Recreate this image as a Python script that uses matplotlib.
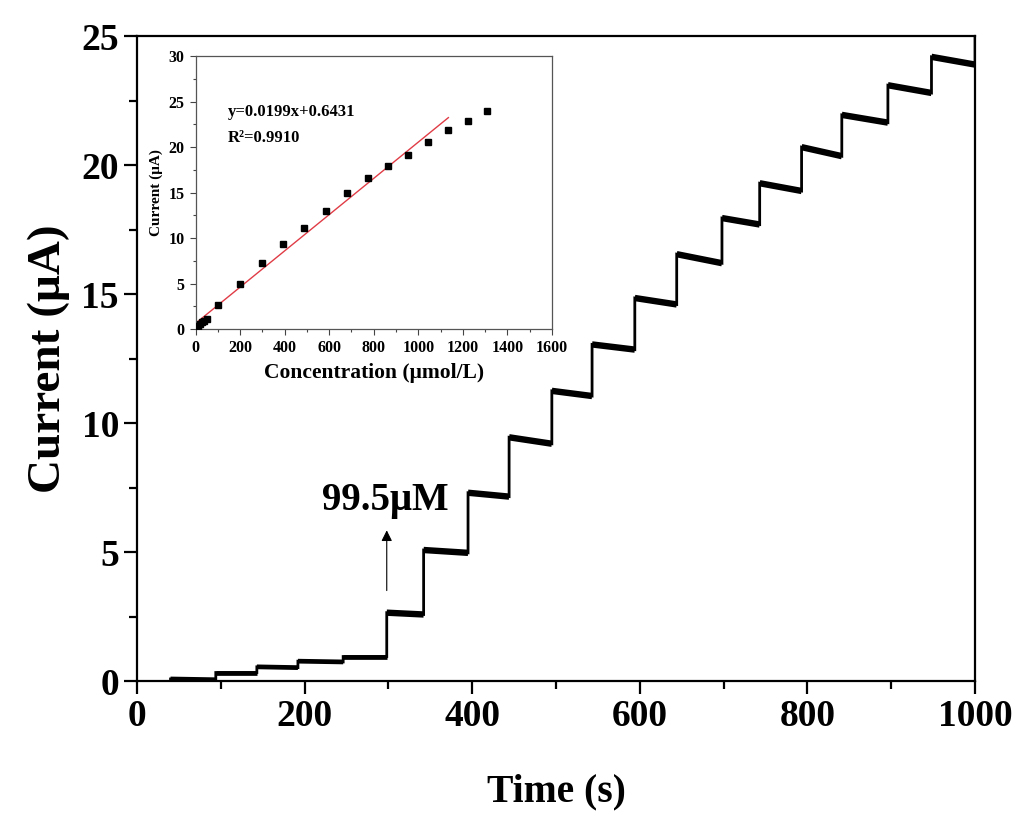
import numpy as np
import matplotlib
matplotlib.use("Agg")
import matplotlib.pyplot as plt
from matplotlib.ticker import MultipleLocator

plt.rcParams["font.family"] = ["Liberation Serif", "DejaVu Serif"]
plt.rcParams["font.weight"] = "bold"

# amperometric staircase: onset time of each plateau, level at start and end (uA)
step_t = [40, 94, 143, 192, 246, 298, 342, 395, 444, 495, 543, 594, 644, 698, 743, 793, 841, 896, 948]
level_start = [0.08, 0.33, 0.55, 0.77, 0.95, 2.65, 5.08, 7.3, 9.45, 11.25, 13.05, 14.85, 16.55,
               17.95, 19.3, 20.7, 21.95, 23.1, 24.2]
level_end = [0.05, 0.33, 0.52, 0.74, 0.95, 2.58, 4.97, 7.15, 9.2, 11.05, 12.85, 14.6, 16.2,
             17.7, 19.0, 20.35, 21.65, 22.8, 23.9]
t_end = 1000
final_spike = 25.0

# calibration (inset)
conc = [10, 20, 30, 40, 50, 102, 199, 298, 394, 488, 584, 679, 772, 863, 953, 1043, 1134, 1221, 1309]
current = [0.33, 0.54, 0.77, 0.93, 1.1, 2.64, 4.98, 7.3, 9.3, 11.14, 13.0, 14.98, 16.56, 17.9,
           19.1, 20.55, 21.87, 22.86, 24.0]
slope, intercept = 0.0199, 0.6431
fit_x = [5, 1135]

fig = plt.figure(figsize=(10.24, 8.23), dpi=100)
ax = fig.add_axes([0.1338, 0.1725, 0.8184, 0.7835])

# build staircase path
t_path, i_path = [], []
ends = step_t[1:] + [t_end]
for t0, t1, a, b in zip(step_t, ends, level_start, level_end):
    t_path += [t0, t1]
    i_path += [a, b]
t_path.append(t_end)
i_path.append(final_spike)
ax.plot(t_path, i_path, color="black", lw=2.0, solid_joinstyle="miter")
for t0, t1, a, b in zip(step_t, ends, level_start, level_end):
    ax.plot([t0, t1], [a, b], color="black", lw=3.4 if a < 2 else 4.6, solid_capstyle="butt")

ax.set_xlim(0, 1000)
ax.set_ylim(0, 25)
ax.xaxis.set_major_locator(MultipleLocator(200))
ax.xaxis.set_minor_locator(MultipleLocator(100))
ax.yaxis.set_major_locator(MultipleLocator(5))
ax.yaxis.set_minor_locator(MultipleLocator(2.5))
ax.tick_params(which="both", direction="out", top=False, right=False, width=1.6, labelsize=27)
ax.tick_params(which="major", length=9.5)
ax.tick_params(which="minor", length=6)
for s in ax.spines.values():
    s.set_linewidth(1.6)
ax.set_xlabel("Time (s)", fontsize=28.5, fontweight="bold", labelpad=28)
ax.set_ylabel("Current (μA)", fontsize=34, fontweight="bold", labelpad=8)

ax.annotate("", xy=(298, 5.95), xytext=(298, 3.4),
            arrowprops=dict(arrowstyle="-|>", lw=0.8, color="black", mutation_scale=16))
ax.text(296, 7.0, "99.5μM", fontsize=28, fontweight="bold", ha="center", va="center")

# inset calibration plot
ins = fig.add_axes([0.191, 0.600, 0.348, 0.332])
ins.plot(fit_x, [slope * x + intercept for x in fit_x], color="#e03c46", lw=1.0, zorder=2)
ins.plot(conc, current, "s", color="black", ms=4, zorder=3)
ins.set_xlim(0, 1600)
ins.set_ylim(0, 30)
ins.xaxis.set_major_locator(MultipleLocator(200))
ins.xaxis.set_minor_locator(MultipleLocator(100))
ins.yaxis.set_major_locator(MultipleLocator(5))
ins.yaxis.set_minor_locator(MultipleLocator(2.5))
ins.tick_params(which="both", direction="out", top=False, right=False, width=0.8,
                labelsize=11.5, color="#444444")
ins.tick_params(which="major", length=4.5)
ins.tick_params(which="minor", length=2.5)
for s in ins.spines.values():
    s.set_linewidth(0.9)
    s.set_color("#555555")
ins.set_xlabel("Concentration (μmol/L)", fontsize=15.5, fontweight="bold", labelpad=5)
ins.set_ylabel("Current (μA)", fontsize=11, fontweight="bold", labelpad=4)
ins.text(145, 23.8, "y=0.0199x+0.6431", fontsize=12, fontweight="bold", va="center")
ins.text(145, 21.0, "R²=0.9910", fontsize=12, fontweight="bold", va="center")

fig.savefig("out.png", dpi=100)
